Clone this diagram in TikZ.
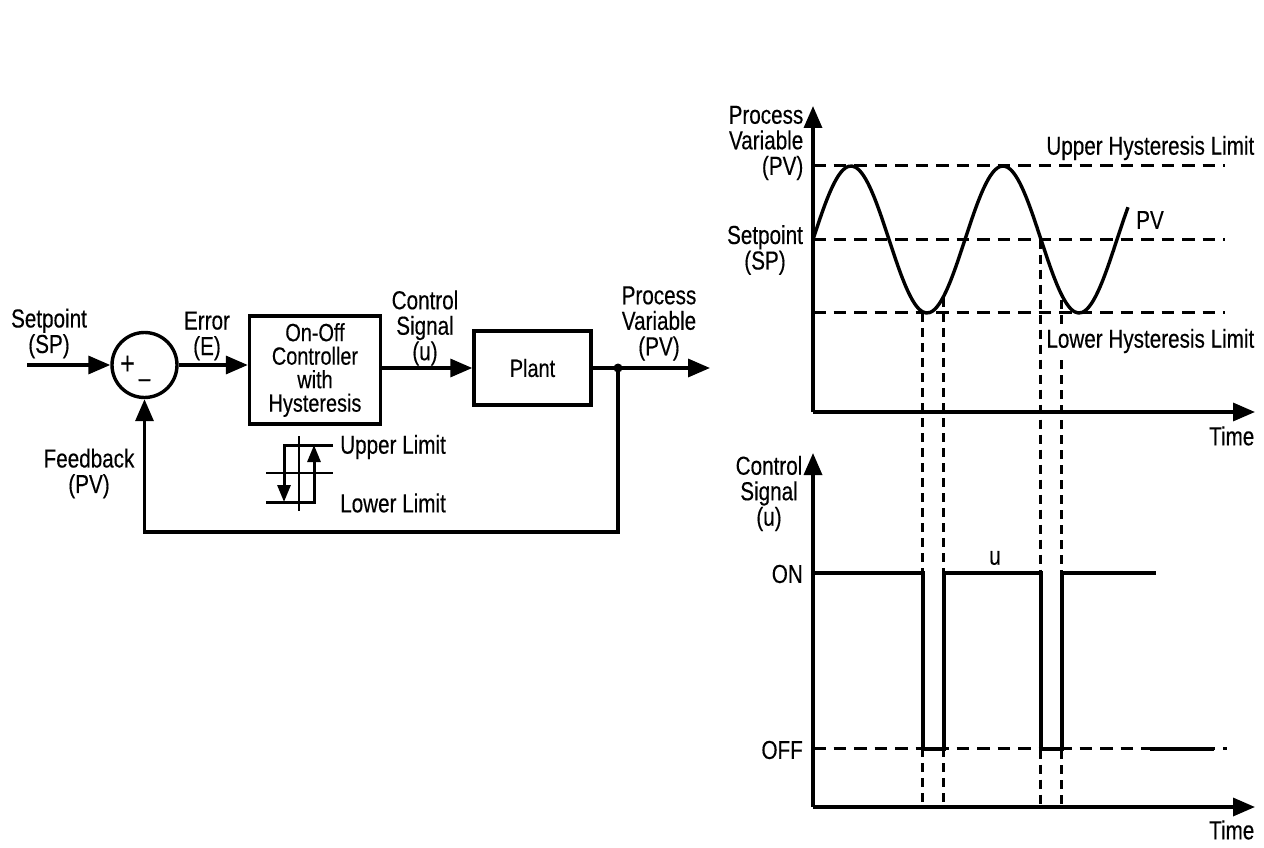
\documentclass[tikz,border=0pt]{standalone}
\usepackage{fontspec}
\setmainfont[FakeStretch=0.795,FakeBold=0.3]{Liberation Sans}
\usetikzlibrary{shapes,arrows.meta}
\tikzstyle{block} = [rectangle, draw, line width=3.4pt, inner sep=0pt, align=center,
    font=\fontsize{25}{23.5}\selectfont]
\tikzstyle{sumblock} = [circle, draw, line width=3.4pt, minimum size=65pt, inner sep=0pt]
\tikzstyle{lbl} = [inner sep=0pt, align=center, font=\fontsize{26}{25.5}\selectfont]
\tikzstyle{line} = [draw, line width=3.4pt, -{Triangle[length=22pt,width=18pt]}]
\tikzstyle{wire} = [draw, line width=3.4pt]
\tikzstyle{loopline} = [draw, line width=3pt, -{Triangle[length=17pt,width=13pt]}]
\tikzstyle{thin line} = [draw, line width=1.6pt]
\tikzstyle{limit} = [draw, line width=3pt, dash pattern=on 12.5pt off 8pt]
\tikzstyle{drop} = [draw, line width=3pt, dash pattern=on 9pt off 6pt]
\begin{document}
\begin{tikzpicture}[x=1pt, y=-1pt]
    \useasboundingbox (0,0) rectangle (1264,848);
    % Place nodes
    \node [sumblock] (sum) at (144.5,365) {};
    \node [lbl, font=\fontsize{32}{32}\selectfont] (plus) at (127.5,365) {+};
    \node [lbl] (minus) at (144.5,383) {–};
    \node [block, minimum width=131pt, minimum height=108pt, right of=sum, node distance=170.5pt, yshift=-5pt] (ctrl)
        {On-Off\\Controller\\with\\Hysteresis};
    \node [block, minimum width=117pt, minimum height=74pt, right of=ctrl, node distance=217.5pt, yshift=2pt] (plant) {Plant};
    \coordinate (in) at (27,365);
    \coordinate (out) at (710,368);
    \coordinate (tap) at (618,368);
    \coordinate (tapdown) at (618,532);
    \coordinate (sumdown) at (144.5,532);
    \fill (tap) circle (4.5pt);
    \node [lbl] (splabel) at (49,333.5) {Setpoint\\(SP)};
    \node [lbl] (errlabel) at (207,336) {Error\\(E)};
    \node [lbl] (ulabel) at (425,328) {Control\\Signal\\(u)};
    \node [lbl] (pvlabel) at (659,323.5) {Process\\Variable\\(PV)};
    \node [lbl] (fblabel) at (89,473.5) {Feedback\\(PV)};
    \path [line] (in) -- (sum);
    \path [line] (sum) -- (sum -| ctrl.west);
    \path [line] (ctrl.east |- plant) -- (plant);
    \path [line] (plant) -- (out);
    \path [line] (tap) -- (tapdown) -- (sumdown) -- (sum);

    % hysteresis sign
    \coordinate (hu1) at (333,445);
    \coordinate (hu2) at (284,445);
    \coordinate (hu3) at (284,502);
    \coordinate (hl1) at (266,502);
    \coordinate (hl2) at (314,502);
    \coordinate (hl3) at (314,445);
    \path [thin line] (299,436) -- (299,511);
    \path [thin line] (266,473) -- (333,473);
    \path [loopline] (hu1) -- (hu2) -- (hu3);
    \path [loopline] (hl1) -- (hl2) -- (hl3);
    \node [lbl, anchor=west] (uplabel) at (340,447) {Upper Limit};
    \node [lbl, anchor=west] (lowlabel) at (340,503) {Lower Limit};

    % PV chart
    \coordinate (pvo) at (813,412);
    \coordinate (pvtop) at (813,106);
    \coordinate (pvend) at (1255,412);
    \path [line] (pvo) -- (pvtop);
    \path [line] (pvo) -- (pvend);
    \path [limit] (813,165.5) -- (1225,165.5);
    \path [limit] (813,239.5) -- (1225,239.5);
    \path [limit] (813,312.5) -- (1225,312.5);
    \draw [line width=3.4pt, smooth, samples=90, domain=0:315]
        plot ({813+\x}, {239.5-73.5*sin(\x*2.36842)});
    \node [lbl, align=right, anchor=east] (pvaxis) at (803.5,143) {Process\\Variable\\(PV)};
    \node [lbl] (spaxis) at (765,250) {Setpoint\\(SP)};
    \node [lbl, anchor=east] (pvtime) at (1254.5,436) {Time};
    \node [lbl] (pvname) at (1150,220) {PV};
    \node [lbl, anchor=east] (uplimit) at (1254.5,148) {Upper Hysteresis Limit};

    % u chart
    \coordinate (uo) at (813,807);
    \coordinate (utop) at (813,453);
    \coordinate (uend) at (1255,807);
    \path [line] (uo) -- (utop);
    \path [line] (uo) -- (uend);
    \path [limit] (813,748.5) -- (1227,748.5);
    \path [wire] (1150,749) -- (1214,749);
    \coordinate (s0) at (813,573);
    \coordinate (s1) at (923,573);
    \coordinate (s2) at (923,749);
    \coordinate (s3) at (944,749);
    \coordinate (s4) at (944,573);
    \coordinate (s5) at (1041,573);
    \coordinate (s6) at (1041,749);
    \coordinate (s7) at (1062,749);
    \coordinate (s8) at (1062,573);
    \coordinate (s9) at (1156,573);
    \path [wire] (s0) -- (s1) -- (s2) -- (s3) -- (s4) -- (s5) -- (s6) -- (s7) -- (s8) -- (s9);
    \node [lbl] (uaxis) at (769,493.5) {Control\\Signal\\(u)};
    \node [lbl, anchor=east] (onlabel) at (803,574) {ON};
    \node [lbl, anchor=east] (offlabel) at (803,750) {OFF};
    \node [lbl] (uname) at (995,558) {u};
    \node [lbl, anchor=east] (utime) at (1254.5,830) {Time};

    % drop lines
    \path [drop] (922.5,313) -- (922.5,807);
    \path [drop] (943.5,298) -- (943.5,807);
    \path [drop] (1040.5,239.5) -- (1040.5,807);
    \path [drop] (1061.5,300) -- (1061.5,807);
    \node [lbl, anchor=east, fill=white, inner sep=2pt] (lowlimit) at (1256.5,341) {Lower Hysteresis Limit};
\end{tikzpicture}
\end{document}
